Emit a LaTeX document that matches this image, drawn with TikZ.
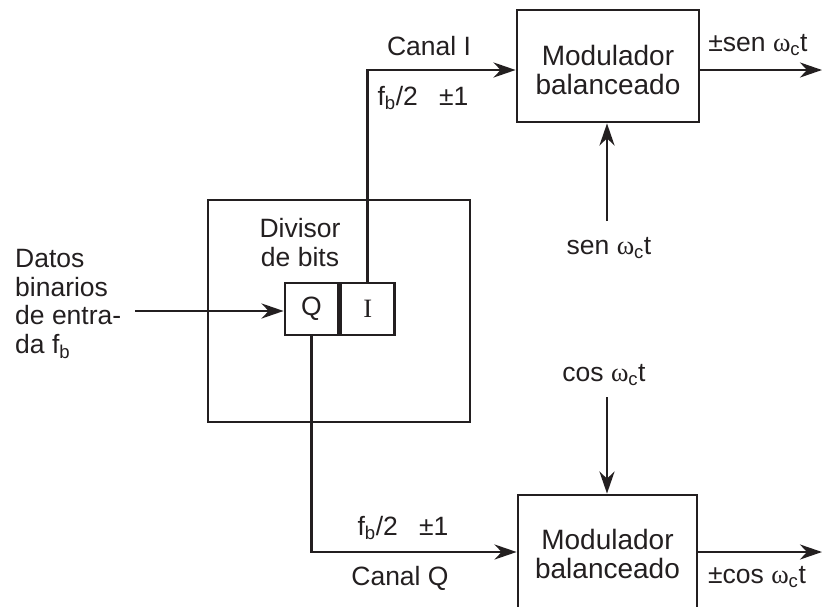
\documentclass[tikz,border=0pt]{standalone}
\usepackage{fontspec}
\setmainfont{Liberation Sans}
\newfontfamily\serif{Liberation Serif}
\usetikzlibrary{arrows.meta}
\definecolor{ink}{RGB}{35,31,32}
\newcommand{\wct}{{\serif ω}\textsubscript{c}t}
\begin{document}
\begin{tikzpicture}[x=1pt,y=-1pt,color=ink,
  every node/.style={font=\fontsize{26.5}{29}\selectfont, inner sep=0pt},
  blk/.style={draw, line width=2.8pt, align=center},
  arr/.style={line width=2.8pt, -{Stealth[length=22pt,width=15pt,inset=7pt]}},
  lbl/.style={align=center},
  modtxt/.style={align=center, font=\fontsize{28}{29}\selectfont}]
\useasboundingbox (0,0) rectangle (823,606);
\clip (0,0) rectangle (823,606);
% blocks
\node[blk, minimum width=182pt, minimum height=112pt] (modI) at (608,66) {};
\node[modtxt] (modItxt) at (608,70) {Modulador\\balanceado};
\node[blk, minimum width=179pt, minimum height=116pt] (modQ) at (607.5,553) {};
\node[modtxt] (modQtxt) at (607.5,554) {Modulador\\balanceado};
\node[blk, minimum width=262pt, minimum height=222pt] (div) at (339,311) {};
\node[blk, minimum width=53pt, minimum height=52pt] (Q) at (311.5,309) {Q};
\node[blk, minimum width=54pt, minimum height=52pt, anchor=west] (I) at (Q.east) {\serif I};
% labels
\node[lbl] (divlbl) at (300,243) {Divisor\\de bits};
\node[align=left, anchor=west, font=\fontsize{26.5}{28.7}\selectfont] (datos) at (15,304) {Datos\\binarios\\de entra-\\da f\textsubscript{b}};
\node[lbl] (canalI) at (429,46) {Canal I};
\node[lbl] (fbI) at (423,98) {f\textsubscript{b}/2\hspace{0.8em}±1};
\node[lbl] (outIlbl) at (758,45) {±sen \wct};
\node[lbl] (senlbl) at (609,248) {sen \wct};
\node[lbl] (coslbl) at (604,375) {cos \wct};
\node[lbl] (fbQ) at (403,528) {f\textsubscript{b}/2\hspace{0.8em}±1};
\node[lbl] (canalQ) at (400,578) {Canal Q};
\node[lbl] (outQlbl) at (757,577) {±cos \wct};
% coordinates
\coordinate (in) at (135,311);
\coordinate (sen) at (607,221);
\coordinate (cos) at (607,397);
\coordinate (outI) at (822,70);
\coordinate (outQ) at (822,552);
% connectors
\draw[arr] (in) -- (in -| Q.west);
\draw[arr] (I.north) |- ([yshift=-4pt]modI.west);
\draw[arr] (Q.south) |- ([yshift=1pt]modQ.west);
\draw[arr] (sen) -- (sen |- modI.south);
\draw[arr] (cos) -- (cos |- modQ.north);
\draw[arr] ([yshift=-4pt]modI.east) -- (outI);
\draw[arr] ([yshift=1pt]modQ.east) -- (outQ);
\end{tikzpicture}
\end{document}
